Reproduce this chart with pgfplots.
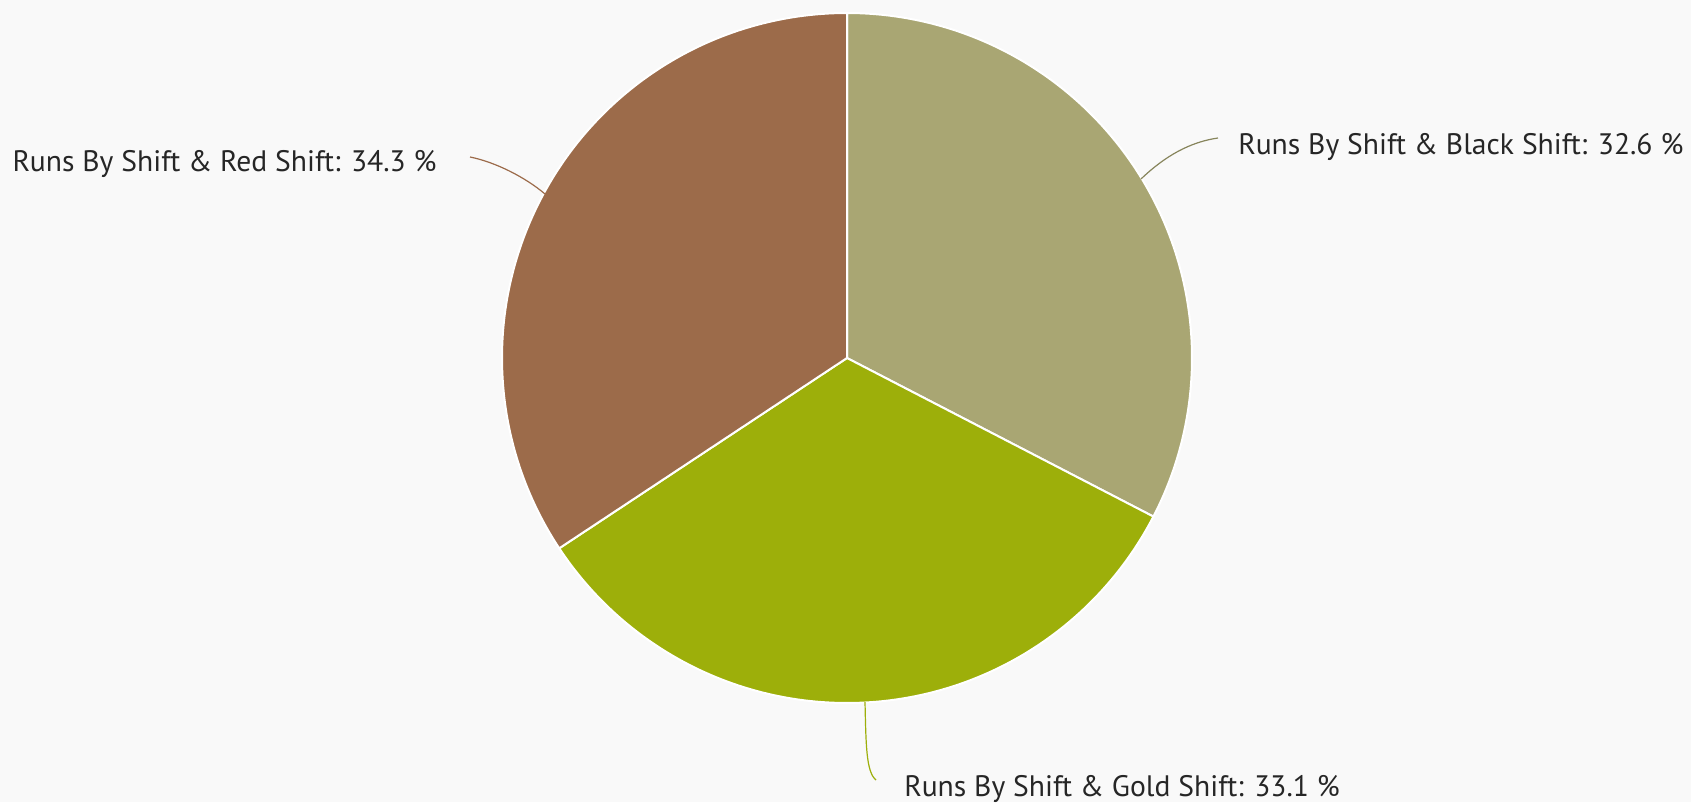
\documentclass[border=0pt]{standalone}
\usepackage{pgfplots}
\pgfplotsset{compat=1.18}
\usepackage{pgfplotstable}
\usepackage{fontspec}
\setmainfont{PT Sans}

\definecolor{bgc}{HTML}{F9F9F9}
\definecolor{cBlack}{HTML}{A9A673}
\definecolor{cGold}{HTML}{9DAF0A}
\definecolor{cRed}{HTML}{9C6B4A}
\definecolor{txt}{HTML}{262626}

% share of each slice, in percent (clockwise from 12 o'clock)
\pgfplotstableread{
name  pct
Black 32.6
Gold  33.1
Red   34.3
}\shares

\pgfplotstablegetelem{0}{pct}\of\shares \let\pA\pgfplotsretval
\pgfplotstablegetelem{1}{pct}\of\shares \let\pB\pgfplotsretval
\pgfplotstablegetelem{2}{pct}\of\shares \let\pC\pgfplotsretval

% cumulative angles
\pgfmathsetmacro\aZero{90}
\pgfmathsetmacro\aOne{90-3.6*\pA}
\pgfmathsetmacro\aTwo{\aOne-3.6*\pB}
\pgfmathsetmacro\aThree{\aTwo-3.6*\pC}

\def\cx{847}
\def\cy{444}
\def\rr{345}

\begin{document}
\begin{tikzpicture}
\begin{axis}[
  scale only axis, width=845.5pt, height=401pt,
  xmin=0, xmax=1691, ymin=0, ymax=802,
  axis line style={draw=none}, ticks=none,
  axis background/.style={fill=bgc},
  clip=false,
  every axis plot/.append style={draw=white, line width=1pt, samples=120, smooth},
]
\addplot[fill=cBlack, domain=\aOne:\aZero] ({\cx+\rr*cos(x)},{\cy+\rr*sin(x)}) -- (\cx,\cy) -- cycle;
\addplot[fill=cGold, domain=\aTwo:\aOne] ({\cx+\rr*cos(x)},{\cy+\rr*sin(x)}) -- (\cx,\cy) -- cycle;
\addplot[fill=cRed, domain=\aThree:\aTwo] ({\cx+\rr*cos(x)},{\cy+\rr*sin(x)}) -- (\cx,\cy) -- cycle;

% leader lines
\draw[cBlack!80!black, line width=0.6pt] (1141,623) .. controls (1165,646) and (1190,660) .. (1218,664);
\draw[cRed, line width=0.6pt] (545,608) .. controls (525,625) and (495,640) .. (470,645);
\draw[cGold, line width=0.6pt] (865,100) .. controls (866,58) and (866,30) .. (876,22);

\begin{scope}[every node/.style={text=txt, font=\fontsize{14.8}{16}\selectfont, inner sep=0pt}]
\node[anchor=mid west] at (1238,652) {Runs By Shift \& Black Shift: 32.6 \%};
\node[anchor=mid east] at (437,636) {Runs By Shift \& Red Shift: 34.3 \%};
\node[anchor=mid west] at (904,11) {Runs By Shift \& Gold Shift: 33.1 \%};
\end{scope}
\end{axis}
\end{tikzpicture}
\end{document}
